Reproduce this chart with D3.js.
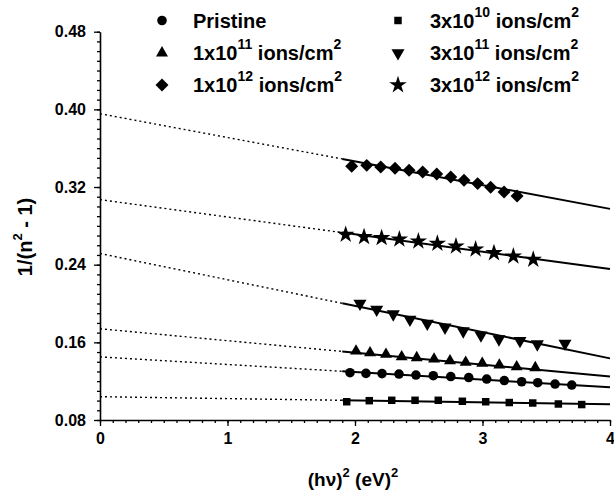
<!DOCTYPE html>
<html>
<head>
<meta charset="utf-8">
<script src="https://cdn.jsdelivr.net/npm/d3@7"></script>
<style>
  body { margin: 0; background: #fff; }
  text { font-family: "Liberation Sans", Arial, sans-serif; font-weight: bold; fill: #000; }
</style>
</head>
<body>
<div id="main"></div>
<script>
// --- data
const xTicks = [0, 1, 2, 3, 4];
const yTicks = [0.08, 0.16, 0.24, 0.32, 0.40, 0.48];

const xPristine = [1.961, 2.086, 2.212, 2.345, 2.478, 2.614, 2.751, 2.892, 3.033, 3.171, 3.307, 3.433, 3.569, 3.700];
const yPristine = [0.1287, 0.1280, 0.1278, 0.1273, 0.1263, 0.1256, 0.1248, 0.1237, 0.1222, 0.1206, 0.1194, 0.1184, 0.1170, 0.1160];

const x3e10 = [1.935, 2.112, 2.288, 2.471, 2.653, 2.842, 3.025, 3.210, 3.394, 3.595, 3.778];
const y3e10 = [0.0988, 0.0999, 0.1003, 0.1003, 0.1003, 0.0993, 0.0988, 0.0980, 0.0975, 0.0965, 0.0959];

const x1e11 = [2.008, 2.118, 2.243, 2.366, 2.484, 2.620, 2.745, 2.868, 2.998, 3.132, 3.268, 3.414];
const y1e11 = [0.1510, 0.1492, 0.1476, 0.1451, 0.1441, 0.1428, 0.1410, 0.1394, 0.1383, 0.1366, 0.1348, 0.1338];

const x3e11 = [2.039, 2.170, 2.300, 2.431, 2.567, 2.706, 2.849, 2.988, 3.129, 3.294, 3.430, 3.647];
const y3e11 = [0.2001, 0.1939, 0.1891, 0.1836, 0.1795, 0.1754, 0.1716, 0.1674, 0.1633, 0.1616, 0.1582, 0.1589];

const x1e12 = [1.974, 2.092, 2.202, 2.314, 2.424, 2.531, 2.641, 2.751, 2.855, 2.962, 3.064, 3.169, 3.271];
const y1e12 = [0.3413, 0.3423, 0.3406, 0.3393, 0.3372, 0.3354, 0.3334, 0.3303, 0.3269, 0.3235, 0.3197, 0.3149, 0.3108];

const x3e12 = [1.927, 2.071, 2.209, 2.348, 2.497, 2.646, 2.792, 2.946, 3.090, 3.242, 3.398];
const y3e12 = [0.2710, 0.2686, 0.2676, 0.2662, 0.2641, 0.2618, 0.2590, 0.2559, 0.2521, 0.2487, 0.2453];

// linear fits: value at x=0 and at x=4, solid part starts at fitStart
const fitAt0 = [0.145, 0.104, 0.174, 0.2515, 0.3955, 0.307];
const fitAt4 = [0.1138, 0.0962, 0.1248, 0.1435, 0.2975, 0.2355];
const fitStart = 1.9;

// --- layout
const svgWidth = 614, svgHeight = 496;
const margin = { left: 100, right: 4, top: 31.7, bottom: 76 };
const chartWidth = svgWidth - margin.left - margin.right;
const chartHeight = svgHeight - margin.top - margin.bottom;

const series = [
  { xs: xPristine, ys: yPristine, sym: d3.symbolCircle, size: 72, rot: 0 },
  { xs: x3e10, ys: y3e10, sym: d3.symbolSquare, size: 56, rot: 0 },
  { xs: x1e11, ys: y1e11, sym: d3.symbolTriangle, size: 62, rot: 0 },
  { xs: x3e11, ys: y3e11, sym: d3.symbolTriangle, size: 74, rot: 180 },
  { xs: x1e12, ys: y1e12, sym: d3.symbolSquare, size: 84, rot: 45 },
  { xs: x3e12, ys: y3e12, sym: d3.symbolStar, size: 95, rot: 0 }
];

const svg = d3.select('#main')
  .append('svg')
  .attr('width', svgWidth)
  .attr('height', svgHeight);

const xScale = d3.scaleLinear().domain([0, 4]).range([0, chartWidth]);
const yScale = d3.scaleLinear().domain([0.08, 0.48]).range([chartHeight, 0]);

const g = svg.append('g').attr('transform', `translate(${margin.left}, ${margin.top})`);

// minor ticks
g.append('g')
  .attr('transform', `translate(0, ${chartHeight})`)
  .call(d3.axisBottom(xScale).tickValues(d3.range(0, 41).map(i => i / 10)).tickSize(3).tickFormat(''))
  .call(a => a.select('.domain').remove());
g.append('g')
  .call(d3.axisLeft(yScale).tickValues(d3.range(8, 49).map(i => i / 100)).tickSize(3).tickFormat(''))
  .call(a => a.select('.domain').remove());

// major axes
const xAxis = g.append('g')
  .attr('transform', `translate(0, ${chartHeight})`)
  .call(d3.axisBottom(xScale).tickValues(xTicks).tickSize(6).tickSizeOuter(0).tickFormat(d3.format('d')));
const yAxis = g.append('g')
  .call(d3.axisLeft(yScale).tickValues(yTicks).tickSize(6).tickSizeOuter(0).tickFormat(d3.format('.2f')));

g.selectAll('.tick line').attr('stroke-width', 1.3);
g.selectAll('.domain').attr('stroke-width', 1.6);
xAxis.selectAll('text').attr('font-size', 16).attr('dy', '0.95em').attr('y', 9);
yAxis.selectAll('text').attr('font-size', 16).attr('x', -14);

// fit lines
series.forEach((s, i) => {
  const a = fitAt0[i], b = (fitAt4[i] - fitAt0[i]) / 4;
  const ys = fitStart * b + a;
  g.append('line')
    .attr('x1', xScale(0)).attr('y1', yScale(a))
    .attr('x2', xScale(fitStart)).attr('y2', yScale(ys))
    .attr('stroke', '#000').attr('stroke-width', 1.4)
    .attr('stroke-dasharray', '2,3');
  g.append('line')
    .attr('x1', xScale(fitStart)).attr('y1', yScale(ys))
    .attr('x2', xScale(4)).attr('y2', yScale(fitAt4[i]))
    .attr('stroke', '#000').attr('stroke-width', 2);
});

// points
series.forEach(s => {
  const pts = s.xs.map((x, j) => [x, s.ys[j]]);
  g.append('g').selectAll('path')
    .data(pts)
    .enter()
    .append('path')
    .attr('d', d3.symbol().type(s.sym).size(s.size))
    .attr('transform', d => `translate(${xScale(d[0])}, ${yScale(d[1])}) rotate(${s.rot})`)
    .attr('fill', '#000');
});

// axis titles
const xt = svg.append('text')
  .attr('x', 353).attr('y', 486)
  .attr('text-anchor', 'middle')
  .attr('font-size', 19);
xt.append('tspan').text('(hν)');
xt.append('tspan').attr('font-size', 13).attr('dy', -9).text('2');
xt.append('tspan').attr('dy', 9).text(' (eV)');
xt.append('tspan').attr('font-size', 13).attr('dy', -9).text('2');

const yt = svg.append('text')
  .attr('transform', 'translate(32, 237) rotate(-90)')
  .attr('text-anchor', 'middle')
  .attr('font-size', 20);
yt.append('tspan').text('1/(n');
yt.append('tspan').attr('font-size', 13).attr('dy', -10).text('2');
yt.append('tspan').attr('dy', 10).text(' - 1)');

// legend
const legendItems = [
  { s: 0, col: 0, row: 0, base: 'Pristine', sup: '' },
  { s: 1, col: 1, row: 0, base: '3x10', sup: '10' },
  { s: 2, col: 0, row: 1, base: '1x10', sup: '11' },
  { s: 3, col: 1, row: 1, base: '3x10', sup: '11' },
  { s: 4, col: 0, row: 2, base: '1x10', sup: '12' },
  { s: 5, col: 1, row: 2, base: '3x10', sup: '12' }
];
const legendX = [162, 398], legendTextX = [193, 430], legendY = [20.5, 53, 85];

legendItems.forEach(it => {
  const s = series[it.s];
  svg.append('path')
    .attr('d', d3.symbol().type(s.sym).size(s.size))
    .attr('transform', `translate(${legendX[it.col]}, ${legendY[it.row]}) rotate(${s.rot})`)
    .attr('fill', '#000');
  const t = svg.append('text')
    .attr('x', legendTextX[it.col]).attr('y', legendY[it.row] + 7)
    .attr('font-size', 20);
  t.append('tspan').text(it.base);
  if (it.sup) {
    t.append('tspan').attr('font-size', 14).attr('dy', -11).text(it.sup);
    t.append('tspan').attr('dy', 11).text(' ions/cm');
    t.append('tspan').attr('font-size', 14).attr('dy', -11).text('2');
  }
});
</script>
</body>
</html>
